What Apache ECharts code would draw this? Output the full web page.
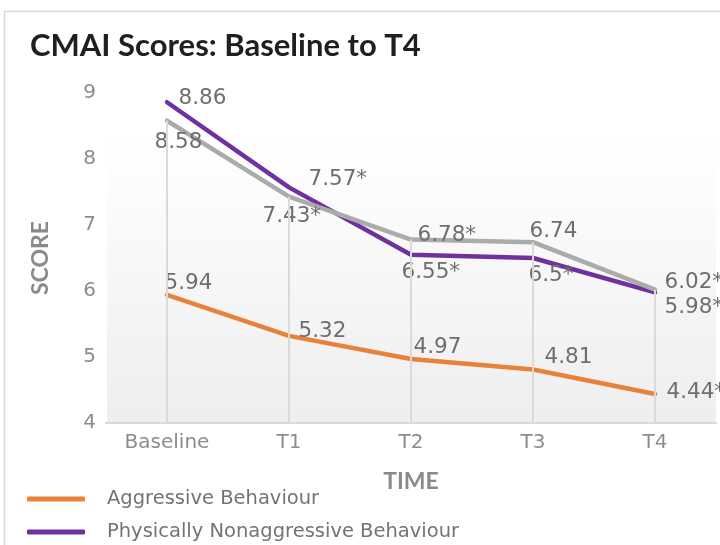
<!DOCTYPE html>
<html>
<head>
<meta charset="utf-8">
<script src="https://cdn.jsdelivr.net/npm/echarts@6/dist/echarts.min.js"></script>
<style>html,body{margin:0;padding:0;background:#fff}#c{width:720px;height:545px}</style>
</head>
<body>
<div id="c"></div>
<script>
// ---- data ----
var categories = ['Baseline', 'T1', 'T2', 'T3', 'T4'];
var aggressive = [5.94, 5.32, 4.97, 4.81, 4.44];
var physNonAggr = [8.86, 7.57, 6.55, 6.50, 5.98];
var verbalAgit = [8.58, 7.43, 6.78, 6.74, 6.02];
var aggressiveSig = [false, false, false, false, true];
var physNonAggrSig = [false, true, true, true, true];
var verbalAgitSig = [false, true, true, false, true];
var seriesNames = ['Aggressive Behaviour', 'Physically Nonaggressive Behaviour', 'Verbally Agitated Behaviour'];
var yTicks = [4, 5, 6, 7, 8, 9];

// ---- label placement (pixel offsets from point) ----
var aggrLabelPos = [[-2, -11], [10, -4], [3, -11], [12, -12], [12, -1]];
var physLabelPos = [[12, -3], [20, -7], [-9, 18], [-4, 18], [10, 16]];
var verbLabelPos = [[-12, 22], [-26, 20], [7, -4], [-3, -10], [10, -7]];

var labelFont = 'DejaVu Sans';

function buildData(values, sig, pos) {
  return values.map(function (v, i) {
    return {
      value: v,
      label: {
        show: true,
        position: pos[i],
        align: 'left',
        verticalAlign: 'middle',
        formatter: String(parseFloat(v.toFixed(2))) + (sig[i] ? '*' : '')
      }
    };
  });
}

function lineSeries(name, values, sig, pos, color) {
  return {
    name: name,
    type: 'line',
    data: buildData(values, sig, pos),
    symbol: 'circle',
    symbolSize: 1,
    showSymbol: true,
    itemStyle: { color: color },
    lineStyle: { color: color, width: 4.5, cap: 'round', join: 'round' },
    label: { color: '#6e6e6e', fontFamily: labelFont, fontSize: 21.5 },
    emphasis: { disabled: true },
    animation: false,
    z: 3
  };
}

var dropData = categories.map(function (c, i) {
  return [{ coord: [i, verbalAgit[i]] }, { coord: [i, yTicks[0]] }];
});

function legendFor(i, top) {
  return {
    orient: 'vertical',
    left: 22, top: top,
    itemWidth: 58, itemHeight: 5,
    icon: 'roundRect',
    data: [seriesNames[i]],
    textStyle: { fontFamily: labelFont, fontSize: 19.5, lineHeight: 22, color: '#737373', padding: [0, 0, 0, 17] }
  };
}

var chart = echarts.init(document.getElementById('c'), null, { renderer: 'canvas' });
chart.setOption({
  animation: false,
  backgroundColor: '#ffffff',
  graphic: [
    {
      type: 'rect', z: -10, silent: true,
      shape: { x: 4.5, y: 11.5, width: 800, height: 600 },
      style: { fill: '#ffffff', stroke: '#d9d9d9', lineWidth: 1.5 }
    },
    {
      type: 'rect', z: -9, silent: true,
      shape: { x: 107, y: 140, width: 609, height: 283 },
      style: {
        fill: new echarts.graphic.LinearGradient(0, 0, 0, 1, [
          { offset: 0, color: '#ffffff' },
          { offset: 1, color: '#eeeeee' }
        ])
      }
    }
  ],
  title: {
    text: 'CMAI Scores: Baseline to T4',
    left: 25, top: 25,
    textStyle: { fontFamily: 'Lato', fontWeight: 'bold', fontSize: 31, color: '#1f1f1f' }
  },
  legend: [legendFor(0, 483), legendFor(1, 516), legendFor(2, 549)],
  grid: { left: 106, right: 4, top: 93, bottom: 122, containLabel: false },
  xAxis: {
    type: 'category',
    data: categories,
    boundaryGap: true,
    name: 'TIME',
    nameLocation: 'middle',
    nameGap: 47,
    nameTextStyle: { fontFamily: 'Lato', fontWeight: 'bold', fontSize: 23, color: '#8a8a8a' },
    axisLine: { lineStyle: { color: '#d9d9d9', width: 2 } },
    axisTick: { show: false },
    axisLabel: { fontFamily: labelFont, fontSize: 20, color: '#8c8c8c', margin: 10 },
    splitLine: { show: false }
  },
  yAxis: {
    type: 'value',
    min: yTicks[0], max: yTicks[yTicks.length - 1], interval: 1,
    name: 'SCORE',
    nameLocation: 'middle',
    nameGap: 54,
    nameRotate: 90,
    nameTextStyle: { fontFamily: 'Lato', fontWeight: 'bold', fontSize: 23, color: '#8a8a8a' },
    axisLine: { show: false },
    axisTick: { show: false },
    splitLine: { show: false },
    axisLabel: { fontFamily: labelFont, fontSize: 20, color: '#8c8c8c', margin: 10 }
  },
  series: [
    {
      type: 'line', data: [], z: 1, silent: true,
      markLine: {
        silent: true, symbol: 'none', animation: false,
        label: { show: false },
        lineStyle: { color: '#dadada', width: 2, type: 'solid' },
        emphasis: { disabled: true },
        data: dropData
      }
    },
    lineSeries(seriesNames[0], aggressive, aggressiveSig, aggrLabelPos, '#E8823A'),
    lineSeries(seriesNames[1], physNonAggr, physNonAggrSig, physLabelPos, '#7030A0'),
    lineSeries(seriesNames[2], verbalAgit, verbalAgitSig, verbLabelPos, '#ABABAB')
  ]
});
</script>
</body>
</html>
